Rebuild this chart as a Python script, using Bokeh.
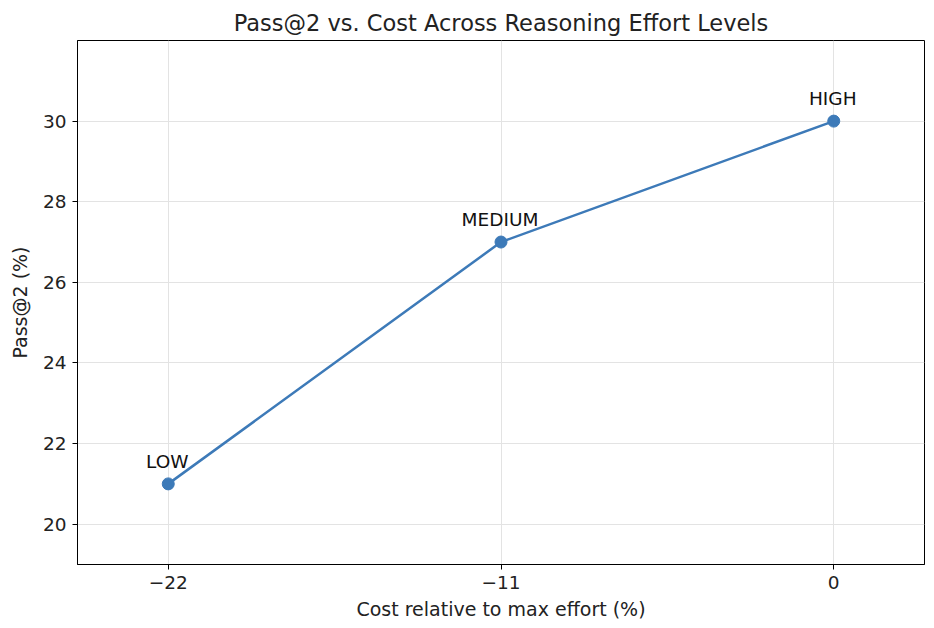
from bokeh.plotting import figure
from bokeh.models import ColumnDataSource, Range1d, FixedTicker, LabelSet
from bokeh.core.properties import value
from bokeh.embed import file_html
from bokeh.resources import INLINE

cost = [-22, -11, 0]
pass2 = [21, 27, 30]
levels = ["LOW", "MEDIUM", "HIGH"]
x_ticks = [-22, -11, 0]
y_ticks = [20, 22, 24, 26, 28, 30]

src = ColumnDataSource(dict(x=cost, y=pass2, t=levels))

p = figure(width=932, height=622, output_backend="svg", toolbar_location=None,
           x_range=Range1d(-25.0, 3.0), y_range=Range1d(19, 32),
           title="Pass@2 vs. Cost Across Reasoning Effort Levels",
           min_border_left=77, min_border_right=8, min_border_top=40, min_border_bottom=58)

p.title.align = "center"
p.title.text_font = "DejaVu Sans"
p.title.text_font_size = "22.5px"
p.title.text_font_style = "normal"
p.title.text_color = "#222222"

col = "#3d7ab8"
p.line("x", "y", source=src, line_color=col, line_width=2.5)
p.scatter("x", "y", source=src, size=12, fill_color=col, line_color=col)

labels = LabelSet(x="x", y="y", text="t", source=src, x_offset=-1, y_offset=16,
                  text_align="center", text_baseline="alphabetic",
                  text_font_size="18.5px", text_font=value("DejaVu Sans"), text_color="#111111")
p.add_layout(labels)

for ax in (p.xaxis, p.yaxis):
    ax.axis_label_text_font = "DejaVu Sans"
    ax.axis_label_text_font_size = "19px"
    ax.axis_label_text_font_style = "normal"
    ax.axis_label_text_color = "#222222"
    ax.major_label_text_font = "DejaVu Sans"
    ax.major_label_text_font_size = "18.5px"
    ax.major_label_text_color = "#222222"
    ax.major_tick_out = 5
    ax.major_tick_in = 0
    ax.minor_tick_out = 0
    ax.minor_tick_in = 0
    ax.axis_line_color = "black"
    ax.major_tick_line_color = "black"

p.xaxis.axis_label = "Cost relative to max effort (%)"
p.yaxis.axis_label = "Pass@2 (%)"
p.xaxis.ticker = FixedTicker(ticks=x_ticks)
p.yaxis.ticker = FixedTicker(ticks=y_ticks)
p.xaxis.major_label_overrides = {v: ("\u2212" + str(-v) if v < 0 else str(v)) for v in x_ticks}
p.yaxis.major_label_standoff = 6
p.xaxis.major_label_standoff = 6
p.yaxis.axis_label_standoff = 9
p.xaxis.axis_label_standoff = 6

p.xgrid.grid_line_color = "#e3e3e3"
p.ygrid.grid_line_color = "#e3e3e3"
p.outline_line_color = "black"
p.outline_line_width = 1
p.background_fill_color = "white"
p.border_fill_color = "white"

open("out.html", "w").write(file_html(p, INLINE))
